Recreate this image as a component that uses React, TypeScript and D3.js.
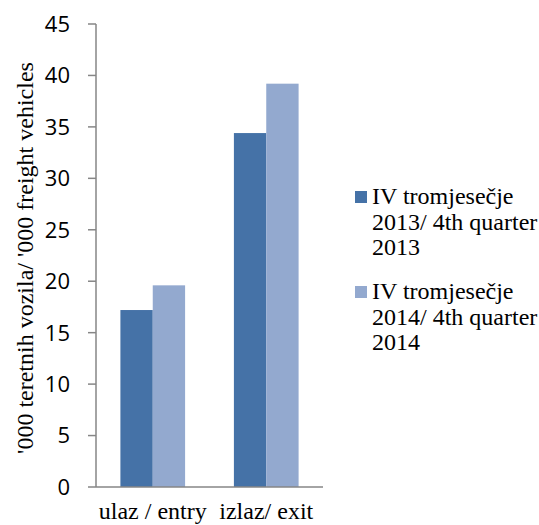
import React from "react";
import * as d3 from "d3";

const categories = ["ulaz / entry", "izlaz/ exit"];
const series2013 = [17.2, 34.4];
const series2014 = [19.6, 39.2];
const seriesNames = [
  ["IV tromjesečje", "2013/ 4th quarter", "2013"],
  ["IV tromjesečje", "2014/ 4th quarter", "2014"],
];
const yTicks = [0, 5, 10, 15, 20, 25, 30, 35, 40, 45];
const colors = ["#4572A7", "#93A9CF"];

export default function App() {
  const W = 539, H = 525;
  const x0 = 96, x1 = 323, yTop = 24, yBot = 487;
  const y = d3.scaleLinear().domain([0, 45]).range([yBot, yTop]);
  const xb = d3.scaleBand().domain(categories).range([x0, x1]).paddingInner(0.43).paddingOuter(0.215);
  const xs = d3.scaleBand().domain(["a", "b"]).range([0, xb.bandwidth()]);
  const seriesData = [series2013, series2014];
  const serif = "Liberation Serif";
  const sans = "Open Sans";
  return (
    <svg width={W} height={H} style={{ position: "absolute", left: 0, top: 0 }}>
      <rect width={W} height={H} fill="#fff" />
      {seriesData.map((s, si) =>
        s.map((v, i) => (
          <rect
            key={`${si}-${i}`}
            x={(xb(categories[i]) as number) + (xs(si ? "b" : "a") as number)}
            y={y(v)}
            width={xs.bandwidth()}
            height={yBot - y(v)}
            fill={colors[si]}
          />
        ))
      )}
      <line x1={x0} x2={x0} y1={yTop} y2={yBot} stroke="#868686" strokeWidth={1.5} />
      <line x1={x0} x2={x1} y1={yBot} y2={yBot} stroke="#868686" strokeWidth={1.5} />
      {yTicks.map((t) => (
        <g key={t}>
          <line x1={x0 - 8} x2={x0} y1={y(t)} y2={y(t)} stroke="#868686" strokeWidth={1.5} />
          <text x={70} y={y(t)} dy="0.36em" textAnchor="end" style={{ fontFamily: sans, fontSize: 22 }} fill="#000">
            {t}
          </text>
        </g>
      ))}
      {categories.map((c) => (
        <text key={c} x={(xb(c) as number) + xb.bandwidth() / 2} y={519} textAnchor="middle" style={{ fontFamily: serif, fontSize: 24 }} fill="#000">
          {c}
        </text>
      ))}
      <text transform="translate(33,258) rotate(-90)" textAnchor="middle" style={{ fontFamily: serif, fontSize: 24 }} fill="#000">
        '000 teretnih vozila/ '000 freight vehicles
      </text>
      {seriesNames.map((lines, si) => (
        <g key={si}>
          <rect x={355} y={si * 95 + 191} width={12} height={12} fill={colors[si]} />
          {lines.map((l, li) => (
            <text key={li} x={372} y={si * 95 + 204 + li * 25.5} style={{ fontFamily: serif, fontSize: 24 }} fill="#000">
              {l}
            </text>
          ))}
        </g>
      ))}
    </svg>
  );
}
